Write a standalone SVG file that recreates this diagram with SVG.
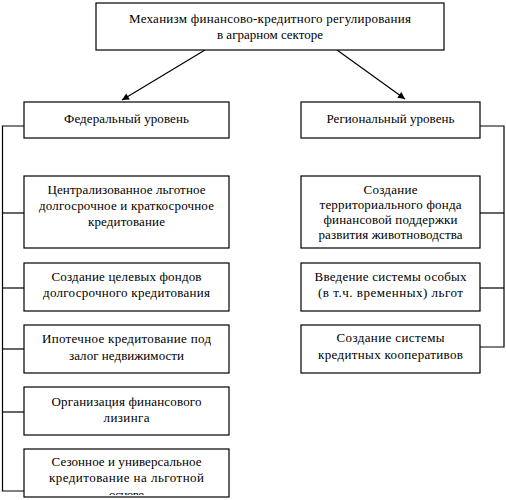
<svg xmlns="http://www.w3.org/2000/svg" width="506" height="500" viewBox="0 0 506 500">
<style>
rect.b{fill:#fff;stroke:#000;stroke-width:1.2}
text{font-family:'Liberation Serif','Times New Roman','DejaVu Serif',serif;font-size:13px;fill:#000;text-anchor:middle}
.c line,.c polyline{stroke:#000;stroke-width:1.2;fill:none}
</style>
<defs>
<marker id="ah" viewBox="0 0 10 10" refX="10" refY="5" markerWidth="9" markerHeight="7" markerUnits="userSpaceOnUse" orient="auto">
<path d="M0,0 L10,5 L0,10 z" fill="#000"/>
</marker>
<clipPath id="cl5"><rect x="24" y="449" width="205" height="46"/></clipPath>
</defs>
<rect width="506" height="500" fill="#fff"/>
<g class="c" id="connectors">
<line x1="205" y1="50" x2="122" y2="100" marker-end="url(#ah)"/>
<line x1="337" y1="50" x2="405" y2="99" marker-end="url(#ah)"/>
<polyline points="24,126 2.5,126 2.5,491 24,491"/>
<line x1="2.5" y1="213" x2="24" y2="213"/>
<line x1="2.5" y1="288" x2="24" y2="288"/>
<line x1="2.5" y1="349" x2="24" y2="349"/>
<line x1="2.5" y1="412" x2="24" y2="412"/>
<polyline points="480,126 504,126 504,347 480,347"/>
<line x1="480" y1="213" x2="504" y2="213"/>
<line x1="480" y1="288" x2="504" y2="288"/>
</g>
<g id="top">
<rect class="b" x="96" y="3" width="348" height="47"/>
<text x="270" y="23" textLength="282" lengthAdjust="spacing">Механизм финансово-кредитного регулирования</text>
<text x="270" y="39" textLength="106" lengthAdjust="spacing">в аграрном секторе</text>
</g>
<g id="federal">
<rect class="b" x="24" y="102" width="205" height="36"/>
<text x="126.5" y="123" textLength="125" lengthAdjust="spacing">Федеральный уровень</text>
</g>
<g id="regional">
<rect class="b" x="301" y="102" width="179" height="36"/>
<text x="390.5" y="123" textLength="128" lengthAdjust="spacing">Региональный уровень</text>
</g>
<g id="f1">
<rect class="b" x="24" y="176" width="205" height="72"/>
<text x="126.5" y="194" textLength="158" lengthAdjust="spacing">Централизованное льготное</text>
<text x="126.5" y="210" textLength="175" lengthAdjust="spacing">долгосрочное и краткосрочное</text>
<text x="126.5" y="226" textLength="77" lengthAdjust="spacing">кредитование</text>
</g>
<g id="f2">
<rect class="b" x="24" y="263" width="205" height="48"/>
<text x="126.5" y="281" textLength="150" lengthAdjust="spacing">Создание целевых фондов</text>
<text x="126.5" y="297" textLength="167" lengthAdjust="spacing">долгосрочного кредитования</text>
</g>
<g id="f3">
<rect class="b" x="24" y="325" width="205" height="48"/>
<text x="126.5" y="343" textLength="169" lengthAdjust="spacing">Ипотечное кредитование под</text>
<text x="126.5" y="360" textLength="115" lengthAdjust="spacing">залог недвижимости</text>
</g>
<g id="f4">
<rect class="b" x="24" y="387" width="205" height="48"/>
<text x="126.5" y="406" textLength="150" lengthAdjust="spacing">Организация финансового</text>
<text x="126.5" y="422" textLength="46" lengthAdjust="spacing">лизинга</text>
</g>
<g id="f5">
<rect class="b" x="24" y="449" width="205" height="48"/>
<text x="126.5" y="466" textLength="150" lengthAdjust="spacing">Сезонное и универсальное</text>
<text x="126.5" y="482" textLength="155" lengthAdjust="spacing">кредитование на льготной</text>
<text x="126.5" y="499" clip-path="url(#cl5)" textLength="35" lengthAdjust="spacing">основе</text>
</g>
<g id="r1">
<rect class="b" x="301" y="176" width="179" height="72"/>
<text x="390.5" y="194" textLength="54" lengthAdjust="spacing">Создание</text>
<text x="390.5" y="209" textLength="142" lengthAdjust="spacing">территориального фонда</text>
<text x="390.5" y="224" textLength="134" lengthAdjust="spacing">финансовой поддержки</text>
<text x="390.5" y="239" textLength="144" lengthAdjust="spacing">развития животноводства</text>
</g>
<g id="r2">
<rect class="b" x="301" y="263" width="179" height="48"/>
<text x="390.5" y="281" textLength="152" lengthAdjust="spacing">Введение системы особых</text>
<text x="390.5" y="297" textLength="145" lengthAdjust="spacing">(в т.ч. временных) льгот</text>
</g>
<g id="r3">
<rect class="b" x="301" y="325" width="179" height="48"/>
<text x="390.5" y="342" textLength="108" lengthAdjust="spacing">Создание системы</text>
<text x="390.5" y="359" textLength="145" lengthAdjust="spacing">кредитных кооперативов</text>
</g>
</svg>
